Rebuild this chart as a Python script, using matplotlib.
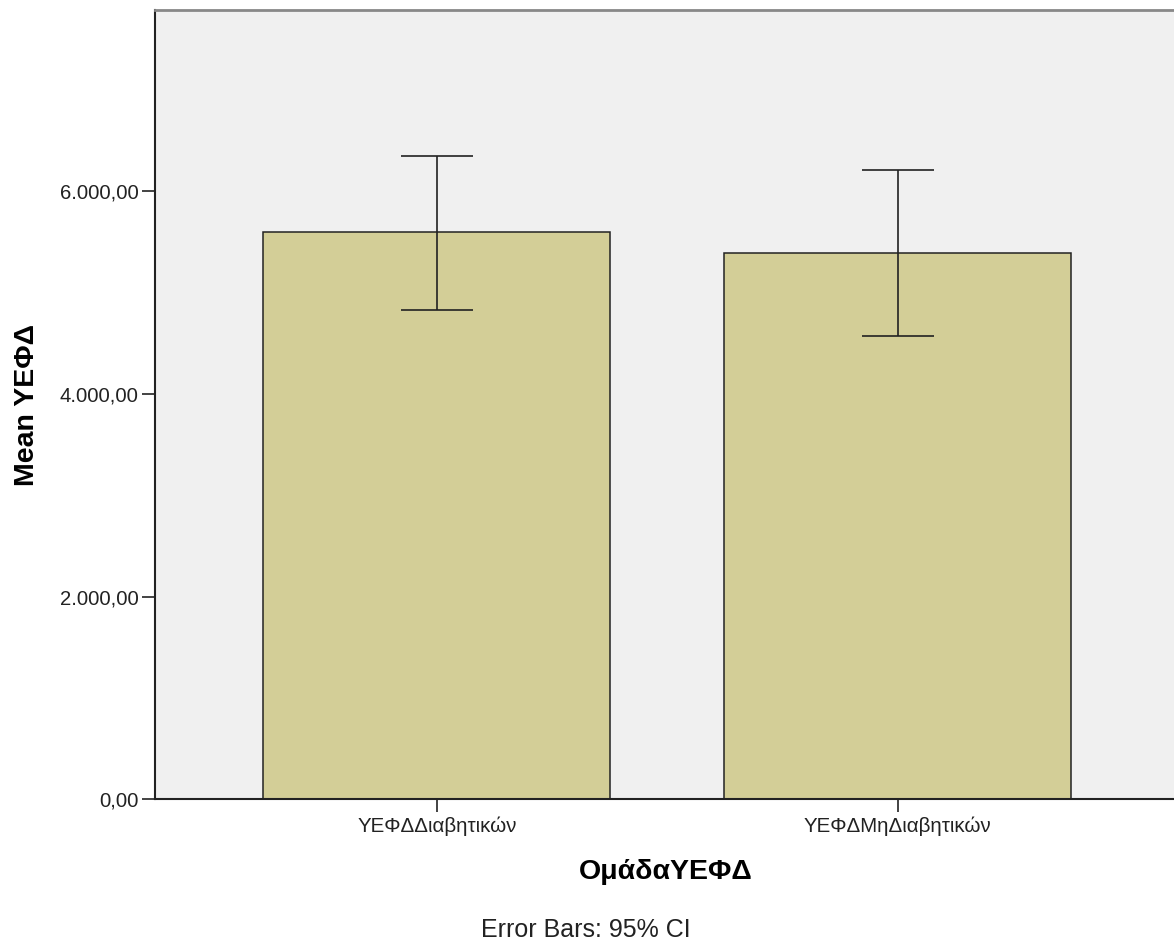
import matplotlib
matplotlib.use("Agg")
import matplotlib.pyplot as plt
from matplotlib.ticker import FuncFormatter, FixedLocator

groups = ["ΥΕΦΔΔιαβητικών", "ΥΕΦΔΜηΔιαβητικών"]
means = [5595, 5388]
ci_low = [4832, 4572]
ci_high = [6351, 6210]
yticks = [0, 2000, 4000, 6000]

plt.rcParams['font.family'] = ['Liberation Sans', 'DejaVu Sans']

def greek_fmt(v, pos):
    s = "{:,.2f}".format(v)
    return s.replace(",", "#").replace(".", ",").replace("#", ".")

fig = plt.figure(figsize=(11.74, 9.44), dpi=100)
ax = fig.add_axes([155/1174, (944-799.3)/944, 1 - 155/1174 + 0.002, (799.3-10)/944])
ax.set_facecolor("#f0f0f0")

x = list(range(len(groups)))
err_lo = [m - l for m, l in zip(means, ci_low)]
err_hi = [h - m for m, h in zip(means, ci_high)]
ax.bar(x, means, width=0.752, color="#d3ce97", edgecolor="#222222", linewidth=1.1, zorder=2)
ax.errorbar(x, means, yerr=[err_lo, err_hi], fmt="none", ecolor="#222222",
            elinewidth=1.2, capsize=26, capthick=1.2, zorder=3)

ax.set_xlim(-0.611, 1.604)
ax.set_ylim(0, 7789)
ax.yaxis.set_major_locator(FixedLocator(yticks))
ax.yaxis.set_major_formatter(FuncFormatter(greek_fmt))
ax.set_xticks(x)
ax.set_xticklabels(groups, fontsize=14.8)
ax.tick_params(axis="y", direction="out", length=9.4, width=1.2, labelsize=14.6, pad=2.5, colors="#222222")
ax.tick_params(axis="x", direction="out", length=9.4, width=1.2, pad=3, colors="#222222")

for side in ["left", "bottom"]:
    ax.spines[side].set_color("#222222")
    ax.spines[side].set_linewidth(1.5)
ax.spines["top"].set_color("#888888")
ax.spines["top"].set_linewidth(2)
ax.spines["right"].set_visible(False)

ax.set_ylabel("Mean ΥΕΦΔ", fontsize=20.5, fontweight="bold", va="center")
ax.yaxis.set_label_coords((27 - 155) / 1019, 0.5)
ax.set_xlabel("ΟμάδαΥΕΦΔ", fontsize=20.5, fontweight="bold", va="center")
ax.xaxis.set_label_coords(0.5, (799.3 - 872) / 789.3)
fig.text(586 / 1174, 1 - 930 / 944, "Error Bars: 95% CI", ha="center", va="center",
         fontsize=18, color="#222222")

fig.savefig("out.png", dpi=100)
